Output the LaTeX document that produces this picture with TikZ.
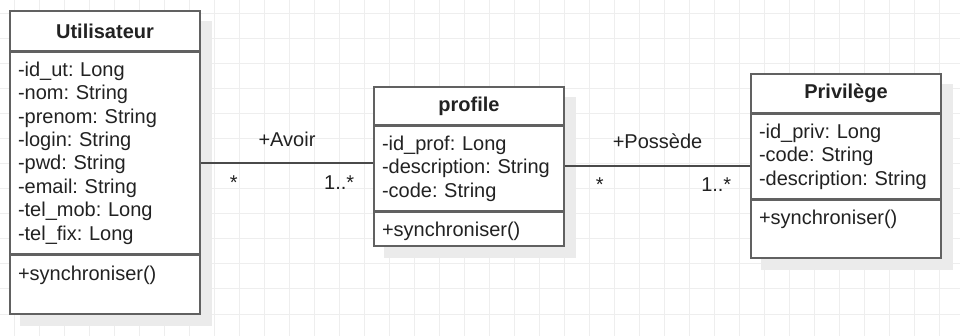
\documentclass[tikz,border=0pt]{standalone}
\usepackage{fontspec}
\setmainfont{Liberation Sans}
\usetikzlibrary{positioning,backgrounds}
\frenchspacing

\definecolor{gridgray}{HTML}{EEEEEE}
\definecolor{shadowgray}{HTML}{EBEBEB}
\definecolor{boxgray}{HTML}{616161}
\definecolor{linegray}{HTML}{4A4A4A}
\definecolor{textgray}{HTML}{222222}

\begin{document}
\begin{tikzpicture}[x=1pt, y=-1pt,
    every node/.style={font=\fontsize{20}{23.4}\selectfont, text=textgray},
    compart/.style={draw=boxgray, line width=1.5pt, fill=white, text width=174pt,
      inner xsep=8pt, inner ysep=0pt, align=left},
    classhead/.style={compart, align=center, font=\fontsize{20}{23.4}\selectfont\bfseries},
    assoc/.style={draw=linegray, line width=1.5pt},
    role/.style={anchor=base, yshift=17pt},
    mult/.style={anchor=base, yshift=-26pt}]

\useasboundingbox (0,0) rectangle (960,336);

% Grid background
\begin{scope}[on background layer]
\fill[white] (0,0) rectangle (960,336);
\foreach \gx in {0,...,37} \draw[gridgray, line width=1pt] (14+25*\gx,0) -- (14+25*\gx,336);
\foreach \gy in {0,...,12} \draw[gridgray, line width=1pt] (0,14+25*\gy) -- (960,14+25*\gy);
\end{scope}

% Utilisateur class
\node[classhead, minimum height=40pt] (ut-head) at (105,31) {Utilisateur};
\node[compart, minimum height=201pt, below=0pt of ut-head] (ut-attr)
  {-id\_ut: Long\\-nom: String\\-prenom: String\\-login: String\\-pwd: String\\-email: String\\-tel\_mob: Long\\-tel\_fix: Long};
\node[compart, text height=25pt, text depth=34pt, below=0pt of ut-attr] (ut-meth) {+synchroniser()};

% profile class
\node[classhead, minimum height=38pt] (pr-head) at (469,106) {profile};
\node[compart, minimum height=84pt, below=0pt of pr-head] (pr-attr)
  {-id\_prof: Long\\-description: String\\-code: String};
\node[compart, text height=25pt, text depth=9pt, below=0pt of pr-attr] (pr-meth) {+synchroniser()};

% Privilege class
\node[classhead, minimum height=39pt] (pv-head) at (846,93.5) {Privilège};
\node[compart, minimum height=84pt, below=0pt of pv-head] (pv-attr)
  {-id\_priv: Long\\-code: String\\-description: String};
\node[compart, text height=25pt, text depth=33pt, below=0pt of pv-attr] (pv-meth) {+synchroniser()};

% Shadows
\begin{scope}[on background layer]
\fill[shadowgray] ([shift={(11pt,-11pt)}]ut-head.north west) rectangle ([shift={(11pt,-11pt)}]ut-meth.south east);
\fill[shadowgray] ([shift={(11pt,-11pt)}]pr-head.north west) rectangle ([shift={(11pt,-11pt)}]pr-meth.south east);
\fill[shadowgray] ([shift={(11pt,-11pt)}]pv-head.north west) rectangle ([shift={(11pt,-11pt)}]pv-meth.south east);
\end{scope}

% Associations
\coordinate (avoir-end) at ([yshift=5.3pt]pr-attr.west);
\draw[assoc] (avoir-end -| ut-attr.east) -- (avoir-end)
  node[midway, role] (avoir-lbl) {+Avoir}
  node[at start, xshift=33pt, mult] (avoir-m1) {*}
  node[at end, xshift=-34pt, mult] (avoir-m2) {1..*};

\coordinate (posse-start) at ([yshift=2.7pt]pr-attr.east);
\draw[assoc] (posse-start) -- (posse-start -| pv-attr.west)
  node[midway, role] (posse-lbl) {+Possède}
  node[at start, xshift=35pt, mult] (posse-m1) {*}
  node[at end, xshift=-34pt, mult] (posse-m2) {1..*};

\end{tikzpicture}
\end{document}
